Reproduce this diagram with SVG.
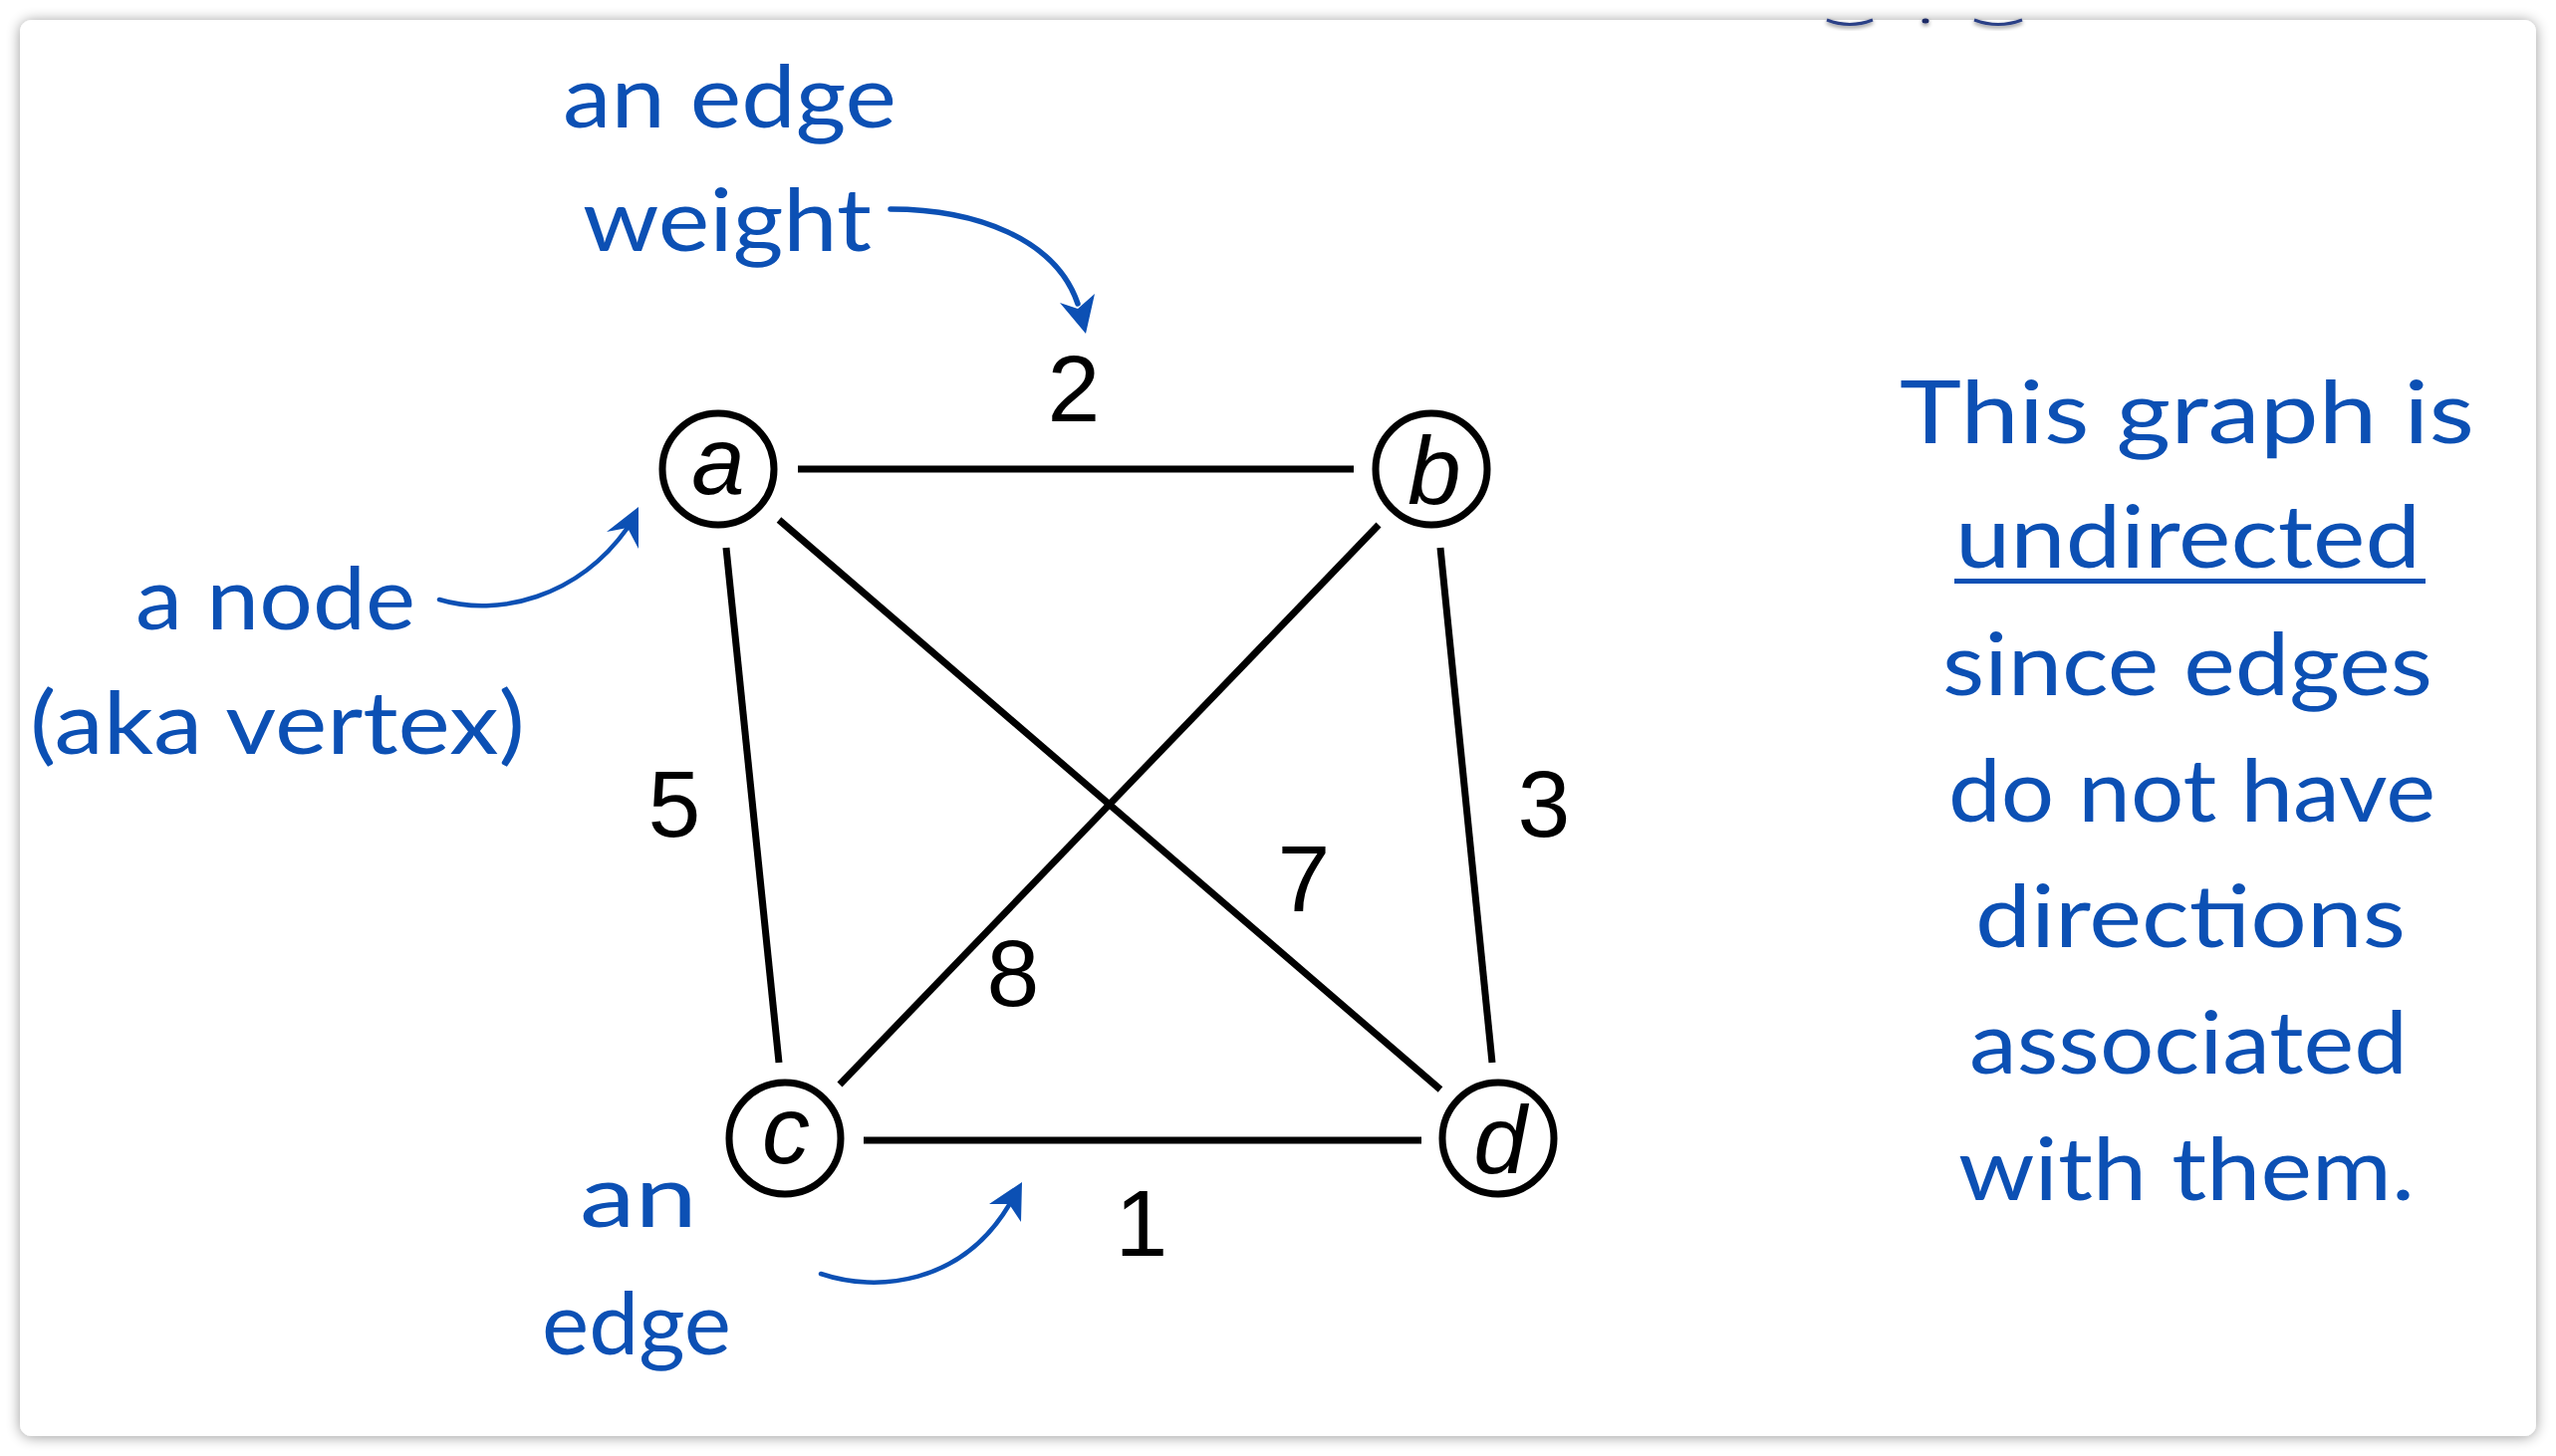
<svg xmlns="http://www.w3.org/2000/svg" width="2566" height="1462" viewBox="0 0 2566 1462">
  <defs>
    <filter id="shadow" x="-3%" y="-3%" width="106%" height="106%">
      <feGaussianBlur in="SourceAlpha" stdDeviation="7"/>
      <feOffset dx="0" dy="1" result="b"/>
      <feComponentTransfer><feFuncA type="linear" slope="0.4"/></feComponentTransfer>
      <feMerge><feMergeNode/><feMergeNode in="SourceGraphic"/></feMerge>
    </filter>
    <filter id="softsh" x="-20%" y="-50%" width="140%" height="250%">
      <feGaussianBlur in="SourceAlpha" stdDeviation="2"/>
      <feOffset dy="2"/>
      <feComponentTransfer><feFuncA type="linear" slope="0.5"/></feComponentTransfer>
      <feMerge><feMergeNode/><feMergeNode in="SourceGraphic"/></feMerge>
    </filter>
  </defs>
  <style>
    .node circle { fill: #ffffff; stroke: #000000; stroke-width: 7; }
    .nlabel { font-family: "Liberation Sans", Arial, sans-serif; font-style: italic; font-size: 96px; fill: #000; text-anchor: middle; }
    .edge { stroke: #000; stroke-width: 7; fill: none; }
    .w { font-family: "Liberation Sans", Arial, sans-serif; font-size: 95px; fill: #000; text-anchor: middle; }
    .hand { font-family: Lato, "Open Sans", sans-serif; font-size: 88px; fill: #0c50b4; }
    .ann { stroke: #0c50b4; fill: none; stroke-linecap: round; }
    .ah { fill: #0c50b4; }
    .frag { stroke: #2a3f86; stroke-width: 3; fill: none; }
  </style>

  <rect x="0" y="0" width="2566" height="1462" fill="#ffffff"/>
  <rect x="20" y="20" width="2526" height="1422" rx="12" fill="#ffffff" filter="url(#shadow)"/>

  <g id="top-fragments" filter="url(#softsh)">
    <path class="frag" d="M1834 20 Q1857 29 1880 20"/>
    <ellipse cx="1933" cy="21" rx="3.5" ry="2.5" fill="#1b2a66"/>
    <path class="frag" d="M1982 20 Q2006 29 2030 20"/>
  </g>

  <g id="edges">
    <line class="edge" x1="801" y1="471" x2="1359" y2="471"/>
    <line class="edge" x1="729" y1="550" x2="782" y2="1067"/>
    <line class="edge" x1="782" y1="522" x2="1446" y2="1094"/>
    <line class="edge" x1="1384" y1="527" x2="843" y2="1089"/>
    <line class="edge" x1="1446" y1="550" x2="1498" y2="1067"/>
    <line class="edge" x1="867" y1="1145" x2="1427" y2="1145"/>
  </g>

  <g id="weights">
    <text class="w" x="1078" y="423">2</text>
    <text class="w" x="677" y="840">5</text>
    <text class="w" x="1550" y="840">3</text>
    <text class="w" x="1309" y="915">7</text>
    <text class="w" x="1017" y="1010">8</text>
    <text class="w" x="1146" y="1261">1</text>
  </g>

  <g id="node-a" class="node">
    <circle cx="721" cy="471" r="56"/>
    <text class="nlabel" x="721" y="496">a</text>
  </g>
  <g id="node-b" class="node">
    <circle cx="1437" cy="471" r="56"/>
    <text class="nlabel" x="1440" y="506">b</text>
  </g>
  <g id="node-c" class="node">
    <circle cx="788" cy="1143" r="56"/>
    <text class="nlabel" x="789" y="1168">c</text>
  </g>
  <g id="node-d" class="node">
    <circle cx="1504" cy="1143" r="56"/>
    <text class="nlabel" x="1506" y="1178">d</text>
  </g>

  <g id="annotation-weight">
    <text class="hand" x="565" y="128" textLength="335" lengthAdjust="spacingAndGlyphs">an edge</text>
    <text class="hand" x="585" y="252" textLength="290" lengthAdjust="spacingAndGlyphs">weight</text>
    <path class="ann" stroke-width="5.5" d="M894 210 C 980 210, 1060 240, 1082 305"/>
    <polygon class="ah" points="1090,335 1064,304 1082,310 1099,295"/>
  </g>

  <g id="annotation-node">
    <text class="hand" x="136" y="632" textLength="281" lengthAdjust="spacingAndGlyphs">a node</text>
    <text class="hand" x="30" y="757" textLength="497" lengthAdjust="spacingAndGlyphs">(aka vertex)</text>
    <path class="ann" stroke-width="4.5" d="M441 602 C 500 620, 580 600, 630 530"/>
    <polygon class="ah" points="641,509 609,534 630,530 641,551"/>
  </g>

  <g id="annotation-edge">
    <text class="hand" x="582" y="1232" textLength="118" lengthAdjust="spacingAndGlyphs">an</text>
    <text class="hand" x="544" y="1360" textLength="190" lengthAdjust="spacingAndGlyphs">edge</text>
    <path class="ann" stroke-width="4.5" d="M824 1279 C 880 1298, 965 1290, 1013 1210"/>
    <polygon class="ah" points="1026,1187 993,1209 1013,1209 1025,1227"/>
  </g>

  <g id="note">
    <text class="hand" x="1907" y="445" textLength="577" lengthAdjust="spacingAndGlyphs">This graph is</text>
    <text class="hand" x="1963" y="570" textLength="467" lengthAdjust="spacingAndGlyphs">undirected</text>
    <rect x="1962" y="581" width="473" height="5" fill="#0c50b4"/>
    <text class="hand" x="1950" y="698" textLength="492" lengthAdjust="spacingAndGlyphs">since edges</text>
    <text class="hand" x="1956" y="825" textLength="489" lengthAdjust="spacingAndGlyphs">do not have</text>
    <text class="hand" x="1983" y="951" textLength="432" lengthAdjust="spacingAndGlyphs">directions</text>
    <text class="hand" x="1977" y="1078" textLength="440" lengthAdjust="spacingAndGlyphs">associated</text>
    <text class="hand" x="1966" y="1205" textLength="458" lengthAdjust="spacingAndGlyphs">with them.</text>
  </g>
</svg>
